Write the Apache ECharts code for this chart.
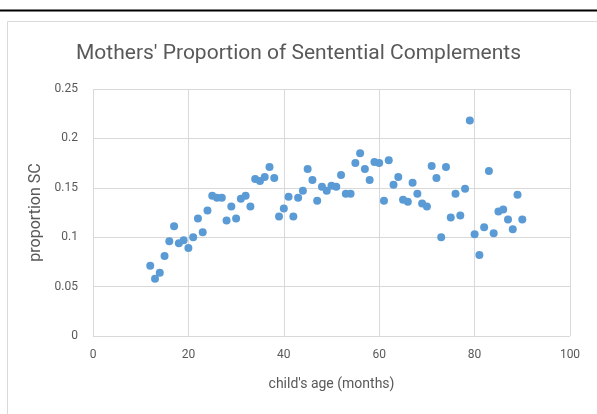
<!DOCTYPE html>
<html>
<head>
<meta charset="utf-8">
<script src="https://cdn.jsdelivr.net/npm/echarts@6/dist/echarts.min.js"></script>
<style>
html,body{margin:0;padding:0;background:#fff;}
#chart{width:597px;height:414px;}
</style>
</head>
<body>
<div id="chart"></div>
<script>
const title = "Mothers' Proportion of Sentential Complements";
const xAxisName = "child's age (months)";
const yAxisName = "proportion SC";
const ages = [12,13,14,15,16,17,18,19,20,21,22,23,24,25,26,27,28,29,30,31,32,33,34,35,36,37,38,39,40,41,42,43,44,45,46,47,48,49,50,51,52,53,54,55,56,57,58,59,60,61,62,63,64,65,66,67,68,69,70,71,72,73,74,75,76,77,78,79,80,81,82,83,84,85,86,87,88,89,90];
const proportions = [0.071,0.058,0.064,0.081,0.096,0.111,0.094,0.097,0.089,0.100,0.119,0.105,0.127,0.142,0.140,0.140,0.117,0.131,0.119,0.139,0.142,0.131,0.159,0.157,0.161,0.171,0.160,0.121,0.129,0.141,0.121,0.140,0.147,0.169,0.158,0.137,0.151,0.147,0.152,0.151,0.163,0.144,0.144,0.175,0.185,0.169,0.158,0.176,0.175,0.137,0.178,0.153,0.161,0.138,0.136,0.155,0.144,0.134,0.131,0.172,0.160,0.100,0.171,0.120,0.144,0.122,0.149,0.218,0.103,0.082,0.110,0.167,0.104,0.126,0.128,0.118,0.108,0.143,0.118];
const xTicks = {min:0, max:100, interval:20};
const yTicks = {min:0, max:0.25, interval:0.05};

const points = ages.map((a,i)=>[a, proportions[i]]);
const font = "Roboto,'Open Sans',sans-serif";
const chart = echarts.init(document.getElementById('chart'), null, {renderer:'canvas'});
chart.setOption({
  animation:false,
  backgroundColor:'#fff',
  graphic:[
    {type:'line', shape:{x1:0,y1:10.5,x2:597,y2:10.5}, style:{stroke:'#000', lineWidth:2}},
    {type:'rect', shape:{x:7.5,y:21.5,width:640,height:440}, style:{fill:null, stroke:'#d9d9d9', lineWidth:1}}
  ],
  title:{
    text:title, left:'center', top:43, padding:0,
    textStyle:{fontFamily:font, fontSize:21, fontWeight:'normal', color:'#595959'}
  },
  grid:{left:93, right:27, top:89, bottom:78, containLabel:false},
  xAxis:{
    type:'value', min:xTicks.min, max:xTicks.max, interval:xTicks.interval,
    name:xAxisName, nameLocation:'middle', nameGap:41,
    nameTextStyle:{fontFamily:font, fontSize:14, color:'#595959'},
    axisLine:{show:false}, axisTick:{show:false},
    axisLabel:{fontFamily:font, fontSize:12, color:'#595959', margin:13},
    splitLine:{show:true, lineStyle:{color:'#d9d9d9', width:1}}
  },
  yAxis:{
    type:'value', min:yTicks.min, max:yTicks.max, interval:yTicks.interval,
    name:yAxisName, nameLocation:'middle', nameGap:44,
    nameTextStyle:{fontFamily:font, fontSize:16, color:'#595959'},
    axisLine:{show:false}, axisTick:{show:false},
    axisLabel:{fontFamily:font, fontSize:12, color:'#595959', margin:15},
    splitLine:{show:true, lineStyle:{color:'#d9d9d9', width:1}}
  },
  series:[{
    type:'scatter', data:points, symbol:'circle', symbolSize:8,
    itemStyle:{color:'#5b9bd5', opacity:1}
  }]
});
</script>
</body>
</html>
